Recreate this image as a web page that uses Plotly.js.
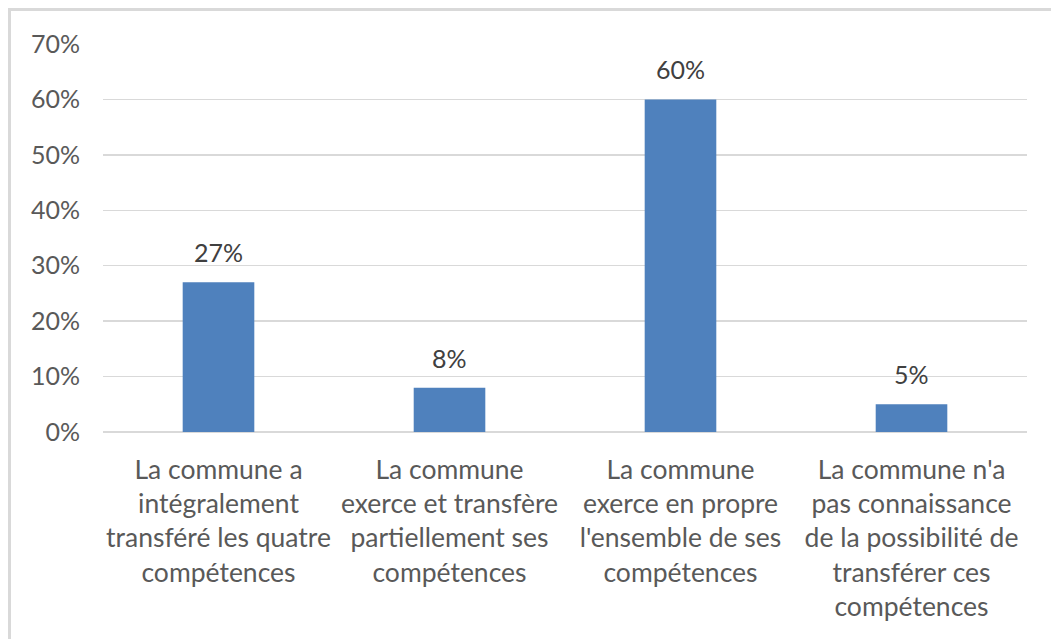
<!DOCTYPE html>
<html>
<head>
<meta charset="utf-8">
<script src="https://cdn.plot.ly/plotly-3.0.1.min.js"></script>
<style>
  html, body { margin: 0; padding: 0; background: #fff; }
  #wrap { position: relative; width: 1051px; height: 639px; overflow: hidden; }
  #chart { position: absolute; left: 0; top: 0; width: 1051px; height: 639px; }
  #frame { position: absolute; left: 8px; top: 8px; width: 1100px; height: 700px;
           border-left: 3px solid #d9d9d9; border-top: 3px solid #d9d9d9; pointer-events: none; }
</style>
</head>
<body>
<div id="wrap">
  <div id="chart"></div>
  <div id="frame"></div>
</div>
<script>
const categories = [
  "La commune a<br>intégralement<br>transféré les quatre<br>compétences",
  "La commune<br>exerce et transfère<br>partiellement ses<br>compétences",
  "La commune<br>exerce en propre<br>l'ensemble de ses<br>compétences",
  "La commune n'a<br>pas connaissance<br>de la possibilité de<br>transférer ces<br>compétences"
];
const values = [0.27, 0.08, 0.60, 0.05];
const valueLabels = ["27%", "8%", "60%", "5%"];
const yTickVals = [0, 0.1, 0.2, 0.3, 0.4, 0.5, 0.6, 0.7];
const yTickText = ["0%", "10%", "20%", "30%", "40%", "50%", "60%", "70%"];

const font = "Lato, 'Open Sans', sans-serif";
const trace = {
  type: "bar",
  x: categories,
  y: values,
  marker: { color: "#4f81bd" },
  width: 0.31,
  hoverinfo: "none"
};
const annotations = categories.map((c, i) => ({
  x: c, y: values[i], xref: "x", yref: "y",
  text: valueLabels[i], showarrow: false,
  yanchor: "bottom", yshift: 13,
  font: { family: font, size: 25, color: "#404040" }
}));
const layout = {
  width: 1051, height: 639,
  margin: { l: 103, r: 24, t: 44, b: 207, pad: 0 },
  paper_bgcolor: "rgba(0,0,0,0)",
  plot_bgcolor: "#fff",
  showlegend: false,
  font: { family: font, color: "#595959" },
  annotations: annotations,
  xaxis: {
    type: "category",
    tickfont: { family: font, size: 26.5, color: "#595959" },
    ticks: "", showline: false, showgrid: false,
    ticklabelstandoff: 19,
    automargin: false
  },
  yaxis: {
    range: [0, 0.7],
    tickvals: yTickVals,
    ticktext: yTickText,
    tickfont: { family: font, size: 25, color: "#595959" },
    showgrid: true, gridcolor: "#d9d9d9", gridwidth: 1.5,
    zeroline: true, zerolinecolor: "#d9d9d9", zerolinewidth: 1.5,
    ticks: "", showline: false,
    ticklabelstandoff: 22,
    automargin: false
  }
};
Plotly.newPlot("chart", [trace], layout, { displayModeBar: false, staticPlot: true });
</script>
</body>
</html>
